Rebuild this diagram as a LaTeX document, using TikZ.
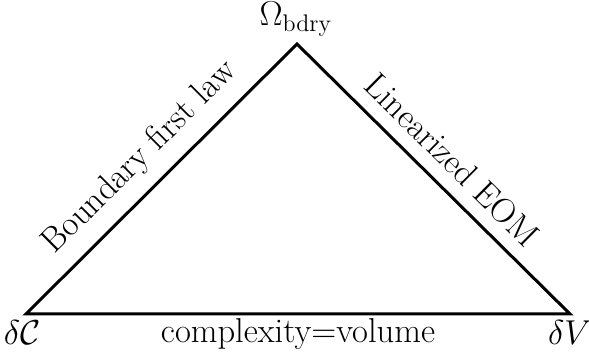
\documentclass[tikz,border=0pt]{standalone}
\begin{document}
\begin{tikzpicture}[x=0.5pt,y=-0.5pt,
  font=\LARGE,
  edge/.style={line width=1.5pt},
  vlabel/.style={inner sep=1pt},
  elabel/.style={sloped,midway,above,inner sep=6.5pt}]
\useasboundingbox (0,0) rectangle (589,356);
\coordinate (T) at (297,44);
\coordinate (L) at (26,314);
\coordinate (R) at (570,314);
\draw[edge,line join=miter] (L) -- node[elabel]{Boundary first law} (T) -- node[elabel]{Linearized EOM} (R) -- cycle;
\node[vlabel] (om) at (296,19) {$\Omega_{\mathrm{bdry}}$};
\node[vlabel] (dc) at (22,333) {$\delta\mathcal{C}$};
\node[vlabel] (dv) at (570,333) {$\delta V$};
\node[vlabel] (cv) at (298,334) {complexity=volume};
\end{tikzpicture}
\end{document}
